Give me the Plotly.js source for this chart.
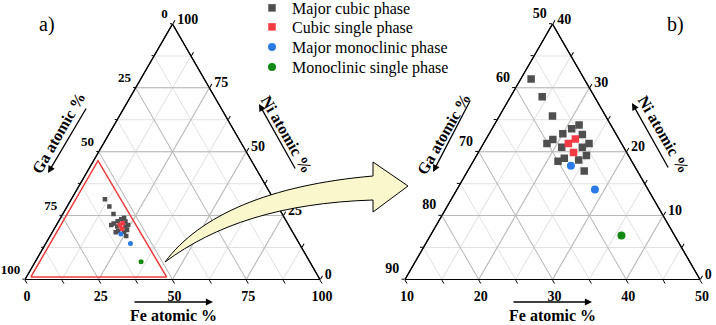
<!DOCTYPE html>
<html><head><meta charset="utf-8">
<script src="https://cdn.plot.ly/plotly-3.0.1.min.js"></script>
<style>html,body{margin:0;padding:0;background:#fff}#chart{width:716px;height:325px}</style>
</head><body><div id="chart"></div>
<script>
// ---------- data (atomic %) ----------
const phaseNames = ['Major cubic phase', 'Cubic single phase', 'Major monoclinic phase', 'Monoclinic single phase'];

const cubicMajorNi = [31.4, 28.6, 25.6, 23.6, 24.2, 22.8, 21.9, 21.3, 20.7, 22.7, 21.3, 20.7, 19.4, 18.7, 19.0, 18.5, 17.0];
const cubicMajorFe = [11.4, 14.3, 17.2, 20.8, 21.5, 20.0, 19.1, 18.6, 20.9, 22.7, 24.3, 23.7, 24.9, 24.2, 22.1, 21.5, 25.8];
const cubicMajorGa = [57.2, 57.1, 57.2, 55.6, 54.3, 57.2, 59.0, 60.1, 58.4, 54.6, 54.4, 55.6, 55.7, 57.1, 58.9, 60.0, 57.2];

const cubicSingleNi = [22.0, 21.3, 19.9];
const cubicSingleFe = [22.1, 21.5, 22.9];
const cubicSingleGa = [55.9, 57.2, 57.2];

const monoMajorNi = [17.8, 14.1];
const monoMajorFe = [23.6, 28.7];
const monoMajorGa = [58.6, 57.2];

const monoSingleNi = [6.9];
const monoSingleFe = [35.9];
const monoSingleGa = [57.2];

// zoomed region outline shown on panel a)
const zoomBoxNi = [1.0, 1.0, 46.5, 1.0];
const zoomBoxFe = [1.5, 47.5, 1.5, 1.5];
const zoomBoxGa = [97.5, 51.5, 52.0, 97.5];

// ---------- ticks ----------
const fullTickVals = [0, 12.5, 25, 37.5, 50, 62.5, 75, 87.5, 100];
const fullMajorVals = [0, 25, 50, 75, 100];
const fullTickText = ['100', '', '75', '', '50', '', '25', '', '0'];

const zoomNiVals = [0, 5, 10, 15, 20, 25, 30, 35, 40];
const zoomNiMajor = [0, 10, 20, 30, 40];
const zoomGaEdgeText = ['90', '', '80', '', '70', '', '60', '', '50'];
const zoomGaVals = [50, 55, 60, 65, 70, 75, 80, 85, 90];
const zoomGaMajor = [50, 60, 70, 80, 90];
const zoomFeEdgeText = ['50', '', '40', '', '30', '', '20', '', '10'];
const zoomFeVals = [10, 15, 20, 25, 30, 35, 40, 45, 50];
const zoomFeMajor = [10, 20, 30, 40, 50];
const zoomNiEdgeText = ['40', '', '30', '', '20', '', '10', '', '0'];

// ---------- styling ----------
const W = 716, H = 325;
const SERIF = 'Liberation Serif, Times New Roman, serif';
const tickFont = {family: SERIF, size: 14, color: '#000', weight: 'bold'};
const tickFontSmall = {family: SERIF, size: 13, color: '#000', weight: 'bold'};
const colors = ['#4f4f4f', '#f23b45', '#2a7be8', '#128a12'];
const symbols = ['square', 'square', 'circle', 'circle'];
const legendIds = ['legend', 'legend2', 'legend3', 'legend4'];
const legendRowY = [8, 27, 47, 67];

const leftDom = {x: [25 / W, 320 / W], y: [0.1385, 0.9277]};
const rightDom = {x: [405 / W, 700 / W], y: [0.1385, 0.9277]};

// left-edge labels sit slightly above their ticks in the reference
function raised(list) { return list.map(function (t) { return t ? t + '<br>\u00a0' : ''; }); }

function baseAxis(vals, text, min, len, font) {
  return {
    title: {text: ''}, min: min, tickmode: 'array', tickvals: vals, ticktext: text,
    ticks: 'outside', ticklen: len || 4, tickwidth: 1, tickcolor: '#000',
    tickfont: font || tickFont, showline: true, linecolor: '#000', linewidth: 1.2,
    showgrid: true, gridcolor: '#e1e1e1', gridwidth: 1
  };
}
function majorAxis(vals, min) {
  return {
    title: {text: ''}, min: min, tickmode: 'array', tickvals: vals,
    ticks: '', showticklabels: false, showline: true, linecolor: '#000', linewidth: 1.2,
    showgrid: true, gridcolor: '#b9b9b9', gridwidth: 1
  };
}

const seriesNi = [cubicMajorNi, cubicSingleNi, monoMajorNi, monoSingleNi];
const seriesFe = [cubicMajorFe, cubicSingleFe, monoMajorFe, monoSingleFe];
const seriesGa = [cubicMajorGa, cubicSingleGa, monoMajorGa, monoSingleGa];

const traces = [];
// empty traces so that the under-layer ternaries (ticks, labels, fine grid) are created
['ternary', 'ternary3'].forEach(function (sp) {
  traces.push({type: 'scatterternary', subplot: sp, mode: 'markers', a: [], b: [], c: [],
    showlegend: false, hoverinfo: 'skip'});
});
traces.push({
  type: 'scatterternary', subplot: 'ternary2', mode: 'lines',
  a: zoomBoxNi, b: zoomBoxGa, c: zoomBoxFe,
  line: {color: '#ee3a3a', width: 1.5}, showlegend: false, hoverinfo: 'skip'
});
for (let i = 0; i < 4; i++) {
  traces.push({
    type: 'scatterternary', subplot: 'ternary4', mode: 'markers', name: phaseNames[i],
    legend: legendIds[i],
    a: seriesNi[i], b: seriesGa[i], c: seriesFe[i],
    marker: {symbol: symbols[i], color: colors[i], size: symbols[i] === 'square' ? 7.5 : 8, line: {width: 0}}
  });
}
for (let i = 0; i < 4; i++) {
  traces.push({
    type: 'scatterternary', subplot: 'ternary2', mode: 'markers', name: phaseNames[i], showlegend: false,
    a: seriesNi[i], b: seriesGa[i], c: seriesFe[i],
    marker: {symbol: symbols[i], color: colors[i], size: symbols[i] === 'square' ? 4.5 : 5, line: {width: 0}}
  });
}

// ---------- decorations (pixel -> paper) ----------
function P(x, y) { return (x / W).toFixed(5) + ',' + (1 - y / H).toFixed(5); }
const bigArrow = 'M' + P(165, 262) +
  ' C' + P(200, 215) + ' ' + P(270, 185) + ' ' + P(373, 176) +
  ' L' + P(373, 162) + ' L' + P(408, 186) + ' L' + P(373, 212) + ' L' + P(373, 200) +
  ' C' + P(280, 203) + ' ' + P(215, 225) + ' ' + P(165, 262) + ' Z';

function label(x, y, text, angle, size, bold) {
  return {
    xref: 'paper', yref: 'paper', x: x / W, y: 1 - y / H, text: text, showarrow: false,
    xanchor: 'center', yanchor: 'middle', textangle: angle || 0,
    font: {family: SERIF, size: size, color: '#000', weight: bold ? 'bold' : 'normal'}
  };
}
function arrow(tx, ty, hx, hy) {
  return {
    xref: 'paper', yref: 'paper', x: hx / W, y: 1 - hy / H, ax: tx - hx, ay: ty - hy,
    axref: 'pixel', ayref: 'pixel', text: '', showarrow: true,
    arrowhead: 2, arrowsize: 1.1, arrowwidth: 1.3, arrowcolor: '#000'
  };
}

const annotations = [
  label(47, 25, 'a)', 0, 20, false),
  label(675, 25, 'b)', 0, 20, false),
  label(58, 133, 'Ga atomic %', -60, 16, true),
  label(287, 134, 'Ni atomic %', 60, 16, true),
  label(173, 315, 'Fe atomic %', 0, 16, true),
  label(443, 134, 'Ga atomic %', -60, 16, true),
  label(664, 134, 'Ni atomic %', 60, 16, true),
  label(552, 315, 'Fe atomic %', 0, 16, true),
  arrow(87, 107, 48, 173),
  arrow(296, 170, 259, 104),
  arrow(133, 302, 213, 302),
  arrow(471, 99, 433, 172),
  arrow(669, 169, 632, 103),
  arrow(512, 302, 592, 302)
];

const layout = {
  width: W, height: H, margin: {l: 0, r: 0, t: 0, b: 0, pad: 0, autoexpand: false},
  paper_bgcolor: '#fff', font: {family: SERIF, color: '#000'},
  ternary: {domain: leftDom, sum: 100, bgcolor: '#fff',
    aaxis: baseAxis(fullTickVals, raised(fullTickText), 0, 2, tickFontSmall),
    baxis: baseAxis(fullTickVals, fullTickText, 0),
    caxis: baseAxis(fullTickVals, fullTickText, 0)},
  ternary2: {domain: leftDom, sum: 100, bgcolor: 'rgba(0,0,0,0)',
    aaxis: majorAxis(fullMajorVals, 0), baxis: majorAxis(fullMajorVals, 0), caxis: majorAxis(fullMajorVals, 0)},
  ternary3: {domain: rightDom, sum: 100, bgcolor: '#fff',
    aaxis: baseAxis(zoomNiVals, raised(zoomGaEdgeText), 0, 3),
    baxis: baseAxis(zoomGaVals, zoomFeEdgeText, 50),
    caxis: baseAxis(zoomFeVals, zoomNiEdgeText, 10)},
  ternary4: {domain: rightDom, sum: 100, bgcolor: 'rgba(0,0,0,0)',
    aaxis: majorAxis(zoomNiMajor, 0), baxis: majorAxis(zoomGaMajor, 50), caxis: majorAxis(zoomFeMajor, 10)},
  showlegend: true,
  shapes: [{type: 'path', xref: 'paper', yref: 'paper', path: bigArrow,
    fillcolor: '#fbf7cd', line: {color: '#000', width: 1}, layer: 'above'}],
  annotations: annotations
};
legendIds.forEach(function (id, i) {
  layout[id] = {x: 252 / W, y: 1 - legendRowY[i] / H, xanchor: 'left', yanchor: 'middle',
    bgcolor: 'rgba(0,0,0,0)', borderwidth: 0,
    font: {family: SERIF, size: 16, color: '#000'}};
});

Plotly.newPlot('chart', traces, layout, {displayModeBar: false, staticPlot: true});
</script>
</body></html>
